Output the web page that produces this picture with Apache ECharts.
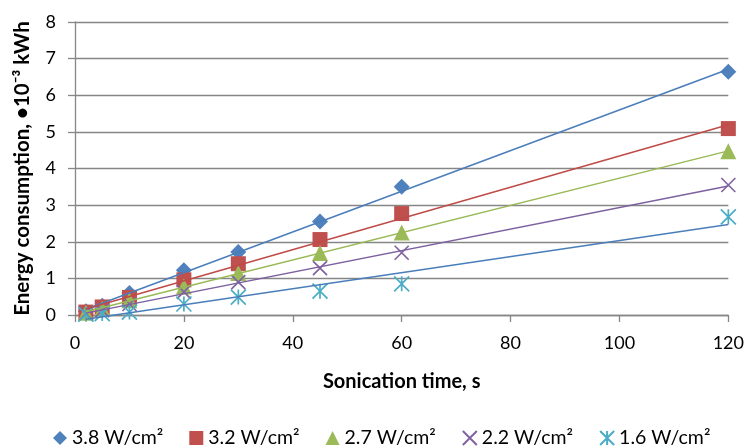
<!DOCTYPE html>
<html>
<head>
<meta charset="utf-8">
<script src="https://cdn.jsdelivr.net/npm/echarts@6/dist/echarts.min.js"></script>
<style>html,body{margin:0;padding:0;background:#fff;}#c{width:747px;height:446px;}</style>
</head>
<body>
<div id="c"></div>
<script>
// Sonication time (s)
const times = [2, 5, 10, 20, 30, 45, 60, 120];
// Energy consumption (·10^-3 kWh) per intensity
const e38 = [0.10, 0.25, 0.60, 1.22, 1.72, 2.55, 3.50, 6.64];
const e32 = [0.08, 0.22, 0.48, 0.96, 1.40, 2.06, 2.77, 5.09];
const e27 = [0.06, 0.17, 0.40, 0.78, 1.15, 1.69, 2.25, 4.47];
const e22 = [0.04, 0.13, 0.30, 0.63, 0.90, 1.28, 1.70, 3.55];
const e16 = [0.02, 0.04, 0.08, 0.30, 0.49, 0.65, 0.85, 2.68];
const seriesNames = ['3.8 W/cm²', '3.2 W/cm²', '2.7 W/cm²', '2.2 W/cm²', '1.6 W/cm²'];
const xTicks = [0, 20, 40, 60, 80, 100, 120];
const yTicks = [0, 1, 2, 3, 4, 5, 6, 7, 8];

const FONT = 'Lato';
const values = [e38, e32, e27, e22, e16];
const markerColors = ['#4F81BD', '#C0504D', '#9BBB59', '#8064A2', '#4BACC6'];
const trendColors = ['#4A7EBB', '#BE4B48', '#98B954', '#7D60A0', '#4A7EBB'];
const symbols = ['diamond', 'rect', 'triangle',
  'path://M0,0L10,10M10,0L0,10',
  'path://M0,0L10,10M10,0L0,10M5,0L5,10'];
const sizes = [16, 15, 16, 14, 15];

function fit(xs, ys) {
  const n = xs.length;
  const mx = xs.reduce((a, b) => a + b, 0) / n;
  const my = ys.reduce((a, b) => a + b, 0) / n;
  let sxy = 0, sxx = 0;
  for (let i = 0; i < n; i++) { sxy += (xs[i] - mx) * (ys[i] - my); sxx += (xs[i] - mx) ** 2; }
  const k = sxy / sxx, b = my - k * mx;
  const x0 = Math.min(...xs), x1 = Math.max(...xs);
  return [[x0, k * x0 + b], [x1, k * x1 + b]];
}

const series = [];
values.forEach((v, i) => {
  const isPath = i >= 3;
  series.push({
    name: seriesNames[i],
    type: 'scatter',
    z: 2,
    symbol: symbols[i],
    symbolSize: sizes[i],
    data: times.map((t, j) => [t, v[j]]),
    itemStyle: isPath
      ? { color: 'rgba(0,0,0,0)', borderColor: markerColors[i], borderWidth: 1.7, opacity: 1 }
      : { color: markerColors[i], opacity: 1 }
  });
});
values.forEach((v, i) => {
  series.push({
    name: 'trend ' + seriesNames[i],
    type: 'line',
    z: 3,
    symbol: 'none',
    silent: true,
    clip: false,
    data: fit(times, v),
    lineStyle: { color: trendColors[i], width: 1.5 }
  });
});

const chart = echarts.init(document.getElementById('c'));
chart.setOption({
  animation: false,
  backgroundColor: '#fff',
  grid: { left: 75, right: 18, top: 22, bottom: 131, containLabel: false },
  xAxis: {
    type: 'value',
    min: xTicks[0], max: xTicks[xTicks.length - 1], interval: 20,
    name: 'Sonication time, s',
    nameLocation: 'middle',
    nameGap: 57,
    nameTextStyle: { fontFamily: FONT, fontSize: 20, fontWeight: 'bold', color: '#000' },
    axisLine: { show: true, lineStyle: { color: '#868686', width: 1.3 } },
    axisTick: { show: true, length: 7, lineStyle: { color: '#868686', width: 1.3 } },
    axisLabel: { margin: 19, fontFamily: FONT, fontSize: 18, color: '#000' },
    splitLine: { show: false }
  },
  yAxis: {
    type: 'value',
    min: yTicks[0], max: yTicks[yTicks.length - 1], interval: 1,
    name: 'Energy consumption, •10⁻³ kWh',
    nameLocation: 'middle',
    nameGap: 42,
    nameTextStyle: { fontFamily: FONT, fontSize: 20.5, fontWeight: 'bold', color: '#000' },
    axisLine: { show: true, lineStyle: { color: '#868686', width: 1.3 } },
    axisTick: { show: true, length: 7, lineStyle: { color: '#868686', width: 1.3 } },
    axisLabel: { margin: 19, fontFamily: FONT, fontSize: 18, color: '#000' },
    splitLine: { show: true, lineStyle: { color: '#868686', width: 1.3 } }
  },
  legend: {
    data: seriesNames,
    left: 48,
    top: 423,
    itemWidth: 14,
    itemHeight: 14,
    itemGap: 26,
    textStyle: { fontFamily: FONT, fontSize: 19.5, color: '#000' }
  },
  series: series
});
</script>
</body>
</html>
